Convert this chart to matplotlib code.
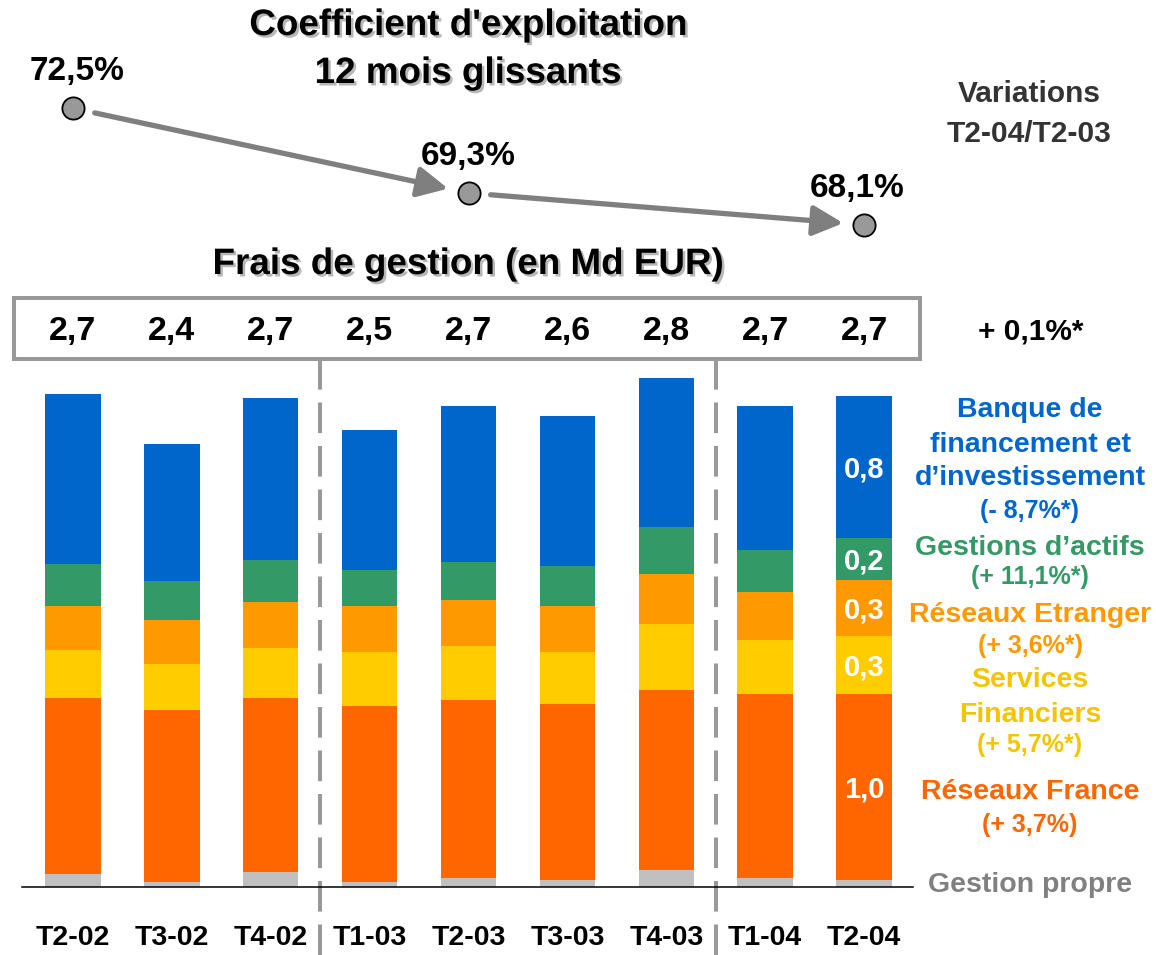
import matplotlib
matplotlib.use('Agg')
import matplotlib.pyplot as plt
import matplotlib.patheffects as pe
from matplotlib.patches import Rectangle
from matplotlib.transforms import blended_transform_factory
import numpy as np

plt.rcParams['font.family'] = ['Liberation Sans', 'DejaVu Sans']
plt.rcParams['font.weight'] = 'bold'

# ---------------- data ----------------
periods = ['T2-02', 'T3-02', 'T4-02', 'T1-03', 'T2-03', 'T3-03', 'T4-03', 'T1-04', 'T2-04']
gestion_propre = [0.073, 0.028, 0.084, 0.028, 0.050, 0.039, 0.095, 0.050, 0.039]
reseaux_france = [0.972, 0.950, 0.961, 0.972, 0.983, 0.972, 0.993, 1.015, 1.026]
services_fin = [0.265, 0.254, 0.276, 0.299, 0.297, 0.287, 0.366, 0.299, 0.321]
reseaux_etranger = [0.243, 0.243, 0.254, 0.254, 0.256, 0.254, 0.274, 0.265, 0.310]
gestions_actifs = [0.231, 0.211, 0.231, 0.198, 0.209, 0.220, 0.256, 0.231, 0.231]
bfi = [0.938, 0.761, 0.894, 0.772, 0.860, 0.828, 0.826, 0.795, 0.784]
totals = [2.7, 2.4, 2.7, 2.5, 2.7, 2.6, 2.8, 2.7, 2.7]

coef_periods = ['T2-02', 'T2-03', 'T2-04']
coef_values = [72.5, 69.3, 68.1]

series_labels = ['Gestion propre', 'Réseaux France', 'Services\nFinanciers',
                 'Réseaux Etranger', 'Gestions d’actifs',
                 'Banque de\nfinancement et\nd’investissement']
series_variations = [None, '(+ 3,7%)', '(+ 5,7%*)', '(+ 3,6%*)', '(+ 11,1%*)', '(- 8,7%*)']
total_variation = '+ 0,1%*'

title_text = "Coefficient d'exploitation\n12 mois glissants"
subtitle_text = 'Frais de gestion (en Md EUR)'
variation_header = 'Variations\nT2-04/T2-03'

# ---------------- style / layout ----------------
series = [gestion_propre, reseaux_france, services_fin, reseaux_etranger, gestions_actifs, bfi]
colors = ['#C0C0C0', '#FF6600', '#FFCC00', '#FF9900', '#339966', '#0066CC']
text_colors = ['#808080', '#FF6600', '#F5C400', '#FF9900', '#339966', '#0066CC']

W, H = 1156, 955
BASE = 887.0      # baseline pixel (from top)
X0 = 73.0         # pixel x of first bar center
STEP = 98.875     # pixels between bars
PXU = 181.2       # pixels per Md EUR


def fx(px):
    return px / W


def fy(py):
    return 1 - py / H


fig = plt.figure(figsize=(W / 100, H / 100), dpi=100)
ax = fig.add_axes([0, (H - BASE) / H, 1, BASE / H])
ax.set_xlim(-X0 / STEP, (W - X0) / STEP)
ax.set_ylim(0, BASE / PXU)
ax.axis('off')

x = np.arange(len(periods))
bottom = np.zeros(len(periods))
for vals, col in zip(series, colors):
    vals = np.array(vals)
    ax.bar(x, vals, width=0.56, bottom=bottom, color=col, linewidth=0, zorder=2)
    bottom += vals

# values inside the last bar
last = len(periods) - 1
cum = 0.0
for vals in series:
    v = vals[last]
    if v >= 0.15:
        ax.text(last, cum + v / 2, f'{round(v, 1):.1f}'.replace('.', ','),
                ha='center', va='center_baseline', color='white',
                fontsize=21, fontweight='bold', zorder=4)
    cum += v

# baseline
ax.plot([(22 - X0) / STEP, (913 - X0) / STEP], [0, 0], color='black', lw=1.1,
        clip_on=False, zorder=3)

# year separators (dashed)
years = [p.split('-')[1] for p in periods]
seps = [i + 0.5 for i in range(len(periods) - 1) if years[i] != years[i + 1]]
for s in seps:
    ax.plot([s, s], [(BASE - 359) / PXU, (BASE - H) / PXU], color='#999999',
            lw=2.9, linestyle=(0, (7.6, 3.2)), clip_on=False, zorder=1)

# tick labels
for i, p in enumerate(periods):
    ax.text(i, (BASE - 945) / PXU, p, ha='center', va='baseline', fontsize=20.5,
            fontweight='bold', color='black', clip_on=False)

# totals box
ax.add_patch(Rectangle((fx(14), fy(358.7)), fx(920) - fx(14), fy(298) - fy(358.7),
                       transform=fig.transFigure, facecolor='white',
                       edgecolor='#999999', lw=2.9, clip_on=False, zorder=1))
trans = blended_transform_factory(ax.transData, fig.transFigure)
for i, t in enumerate(totals):
    ax.text(i, fy(340), f'{t:.1f}'.replace('.', ','), transform=trans,
            ha='center', va='baseline', fontsize=24.5, fontweight='bold',
            color='black', zorder=5)
fig.text(fx(1031), fy(339), total_variation, ha='center', va='baseline',
         fontsize=21.5, fontweight='bold', color='black')

# coefficient d'exploitation line
ax2 = fig.add_axes(ax.get_position(), sharex=ax)
ax2.set_ylim(43.10, 76.586)
ax2.axis('off')
cx = [periods.index(p) for p in coef_periods]
for i in range(len(cx) - 1):
    ax2.annotate('', xy=(cx[i + 1], coef_values[i + 1]), xytext=(cx[i], coef_values[i]),
                 arrowprops=dict(arrowstyle='-|>', color='#7F7F7F', lw=3.8,
                                 mutation_scale=46, shrinkA=16, shrinkB=15))
ax2.plot(cx, coef_values, 'o', ms=16, mfc='#999999', mec='black', mew=1.3,
         ls='none', zorder=5)
label_dx = [3, 0, -5]
for xi, v, dx in zip(cx, coef_values, label_dx):
    ax2.annotate(f'{v:.1f}%'.replace('.', ','), xy=(xi, v), xytext=(dx, 20),
                 textcoords='offset points', ha='center', va='baseline',
                 fontsize=24, fontweight='bold', color='black')

# titles with shadow
shadow = [pe.withSimplePatchShadow(offset=(1.8, -1.8), shadow_rgbFace='#888888', alpha=0.6)]
tl = title_text.split('\n')
fig.text(fx(468), fy(35), tl[0], ha='center', va='baseline', fontsize=26.5,
         fontweight='bold', color='black', path_effects=shadow)
fig.text(fx(468), fy(83), tl[1], ha='center', va='baseline', fontsize=26.5,
         fontweight='bold', color='black', path_effects=shadow)
fig.text(fx(468), fy(274), subtitle_text, ha='center', va='baseline', fontsize=26.5,
         fontweight='bold', color='black', path_effects=shadow)

vh = variation_header.split('\n')
fig.text(fx(1029), fy(102), vh[0], ha='center', va='baseline', fontsize=21.5,
         fontweight='bold', color='#333333')
fig.text(fx(1029), fy(142), vh[1], ha='center', va='baseline', fontsize=21.5,
         fontweight='bold', color='#333333')

# right-hand legend
legend_baselines = [[891.7], [799], [687, 721.7], [621.7], [555], [416.7, 451.7, 485]]
variation_baselines = [None, 831.7, 751.7, 652.7, 584, 518]
for lab, var, col, lb, vb in zip(series_labels, series_variations, text_colors,
                                 legend_baselines, variation_baselines):
    for line, b in zip(lab.split('\n'), lb):
        fig.text(fx(1030), fy(b), line, ha='center', va='baseline', fontsize=20.5,
                 fontweight='bold', color=col)
    if var is not None:
        fig.text(fx(1030), fy(vb), var, ha='center', va='baseline', fontsize=18,
                 fontweight='bold', color=col)

fig.savefig('out.png', dpi=100)
